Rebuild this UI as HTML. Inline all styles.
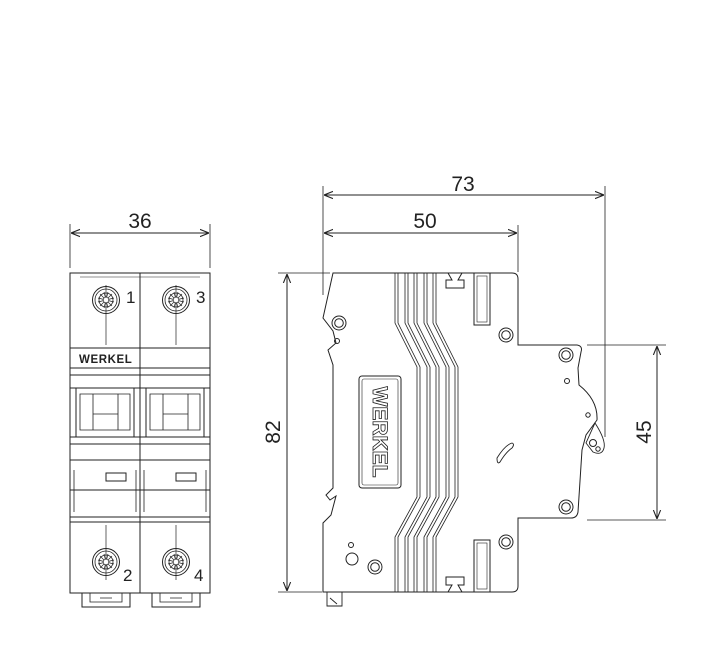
<!DOCTYPE html>
<html><head><meta charset="utf-8"><style>
html,body{margin:0;padding:0;background:#fff;}
svg{display:block;}
text{font-family:"Liberation Sans",sans-serif;fill:#222;}
</style></head><body>
<svg width="703" height="667" viewBox="0 0 703 667" xmlns="http://www.w3.org/2000/svg">
<defs>
<marker id="a" viewBox="0 0 10 10" refX="10" refY="5" markerWidth="9" markerHeight="9" orient="auto-start-reverse"><path d="M0,1 L10,5 L0,9" fill="none" stroke="#222" stroke-width="1.2"/></marker>
<g id="scr">
<circle r="13.5" fill="none" stroke="#222" stroke-width="1"/>
<circle r="11" fill="none" stroke="#222" stroke-width="0.8"/>
<circle r="7" fill="none" stroke="#222" stroke-width="0.8"/>
<path d="M-8,-2 L8,2 M-8,2 L8,-2 M-2,-8 L2,8 M2,-8 L-2,8 M-6,-6 L6,6 M6,-6 L-6,6" stroke="#222" stroke-width="0.7"/>
<circle r="2.8" fill="#fff" stroke="#222" stroke-width="0.7"/>
</g>
<g id="ring"><circle r="7" fill="none" stroke="#222" stroke-width="1"/><circle r="4.3" fill="none" stroke="#222" stroke-width="1"/></g>
</defs>
<g fill="none" stroke="#222" stroke-width="1">
<line x1="70" y1="224" x2="70" y2="268" stroke-width="0.8"/>
<line x1="210" y1="224" x2="210" y2="268" stroke-width="0.8"/>
<line x1="71" y1="233" x2="209" y2="233" marker-start="url(#a)" marker-end="url(#a)"/>
<line x1="323" y1="186" x2="323" y2="295" stroke-width="0.8"/>
<line x1="605" y1="186" x2="605" y2="437" stroke-width="0.8"/>
<line x1="518" y1="225" x2="518" y2="272" stroke-width="0.8"/>
<line x1="324" y1="195" x2="604" y2="195" marker-start="url(#a)" marker-end="url(#a)"/>
<line x1="324" y1="233" x2="517" y2="233" marker-start="url(#a)" marker-end="url(#a)"/>
<line x1="278" y1="273" x2="330" y2="273" stroke-width="0.8"/>
<line x1="278" y1="592" x2="322" y2="592" stroke-width="0.8"/>
<line x1="287" y1="274" x2="287" y2="591" marker-start="url(#a)" marker-end="url(#a)"/>
<line x1="587" y1="345" x2="666" y2="345" stroke-width="0.8"/>
<line x1="587" y1="520" x2="666" y2="520" stroke-width="0.8"/>
<line x1="657" y1="346" x2="657" y2="519" marker-start="url(#a)" marker-end="url(#a)"/>

<rect x="70" y="273" width="140" height="320"/>
<line x1="140" y1="273" x2="140" y2="593"/>
<line x1="70" y1="348" x2="210" y2="348"/>
<line x1="70" y1="368" x2="210" y2="368"/>
<line x1="70" y1="375" x2="210" y2="375"/>
<line x1="80" y1="277" x2="200" y2="277" stroke-width="0.6"/>
<path d="M70,388 H210 M70,437 H210 M70,444 H210 M70,460 H210 M70,490 H210 M70,517 H210 M70,522 H210"/>
<path d="M76,388 V437 M134,388 V437 M146,388 V437 M204,388 V437"/>
<path d="M80,394 H130 V430 H80 Z M150,394 H200 V430 H150 Z" stroke-width="0.8"/>
<path d="M93,394 V430 M118,394 V430 M163,394 V430 M188,394 V430 M93,414 H118 M163,414 H188" stroke-width="0.8"/>
<path d="M74,470 V512 M136,470 V512 M144,470 V512 M206,470 V512" stroke-width="0.8"/>
<rect x="106" y="473" width="20" height="8"/><rect x="176" y="473" width="20" height="8"/>
<path d="M82,593 V607 H130 V593 M152,593 V607 H200 V593"/>
<path d="M90,593 V602 H122 V593 M160,593 V602 H192 V593 M100,598 H112 M170,598 H182" stroke-width="0.8"/>
<line x1="106" y1="285" x2="106" y2="345" stroke-width="0.7"/>
<line x1="176" y1="285" x2="176" y2="345" stroke-width="0.7"/>
<line x1="106" y1="525" x2="106" y2="580" stroke-width="0.7"/>
<line x1="176" y1="525" x2="176" y2="580" stroke-width="0.7"/>
</g>
<use href="#scr" x="106" y="300"/><use href="#scr" x="176" y="300"/>
<use href="#scr" x="106" y="562"/><use href="#scr" x="176" y="562"/>
<text x="126" y="303" font-size="17">1</text>
<text x="196" y="303" font-size="17">3</text>
<text x="123" y="581" font-size="17">2</text>
<text x="194" y="581" font-size="17">4</text>
<text x="79" y="363" font-size="11.5" font-weight="bold" font-family="Liberation Serif,serif" letter-spacing="0.6">WERKEL</text>

<g fill="none" stroke="#222" stroke-width="1">
<path d="M333,273 H512 Q518,273 518,279 V345 H577 Q583,346 581,352 L578,368 L579,385 Q598,400 597,420 L586,435 L582,450 L578,512 Q577,518 571,518 H518 V586 Q518,592 512,592 H323 V523 L331,515 L336,496 L330,500 L326,495 L333,488 V365 L328,350 L336,343 L333,331 L323,318 Z"/>
<path d="M595,423 Q606,440 604,448 Q602,456 593,452 L586,443 Z" stroke-width="0.9"/>
<circle cx="593" cy="443" r="3.5"/><circle cx="598" cy="449" r="2.2"/>
<circle cx="588" cy="415" r="2.2"/>
<rect x="359" y="376" width="42" height="112" rx="3"/>
<rect x="362" y="379" width="36" height="106" rx="2" stroke-width="0.6"/>
<rect x="474" y="273" width="16" height="52" /><rect x="477" y="276" width="10" height="46" stroke-width="0.6"/>
<rect x="474" y="540" width="16" height="52"/><rect x="477" y="543" width="10" height="46" stroke-width="0.6"/>
<path d="M448,273 L452,280 H446 V288 H464 V280 H458 L462,273"/>
<path d="M448,592 L452,585 H446 V577 H464 V585 H458 L462,592"/>
<path d="M327,592 V606 H342 V592 M330,598 L337,604" stroke-width="0.9"/>
<path d="M497,458 Q505,445 512,443 Q515,444 512,448 Q506,452 500,462 Q497,465 497,458 Z" stroke-width="0.9"/>
<g stroke-width="0.8">
<path d="M395,273 V323 L417,367 V497 L395,537 V592"/>
<path d="M398,273 V323 L420,367 V497 L398,537 V592"/>
<path d="M405,273 V323 L427,367 V497 L405,537 V592"/>
<path d="M408,273 V323 L430,367 V497 L408,537 V592"/>
<path d="M414,273 V323 L436,367 V497 L414,537 V592"/>
<path d="M417,273 V323 L439,367 V497 L417,537 V592"/>
<path d="M424,273 V323 L446,367 V497 L424,537 V592"/>
<path d="M427,273 V323 L449,367 V497 L427,537 V592"/>
<path d="M433,273 V323 L455,367 V497 L433,537 V592"/>
<path d="M436,273 V323 L458,367 V497 L436,537 V592"/>
</g>
<circle cx="337" cy="341" r="2.5"/><circle cx="351" cy="545" r="2.5"/><circle cx="352" cy="559" r="6"/>
<circle cx="567" cy="381" r="2.5"/>
</g>
<use href="#ring" x="339" y="323"/><use href="#ring" x="506" y="335"/>
<use href="#ring" x="566" y="355"/><use href="#ring" x="566" y="507"/>
<use href="#ring" x="506" y="542"/><use href="#ring" x="375" y="567"/>
<text x="380" y="432" font-size="21" font-family="Liberation Serif,serif" font-weight="bold" text-anchor="middle" transform="rotate(90 380 432)" style="fill:none" stroke="#222" stroke-width="0.8" dy="7">WERKEL</text>

<text x="140" y="228" font-size="21" text-anchor="middle">36</text>
<text x="463" y="191" font-size="21" text-anchor="middle">73</text>
<text x="425" y="228" font-size="21" text-anchor="middle">50</text>
<text x="280" y="432" font-size="21" text-anchor="middle" transform="rotate(-90 280 432)">82</text>
<text x="651" y="432" font-size="21" text-anchor="middle" transform="rotate(-90 651 432)">45</text>
</svg>
</body></html>
